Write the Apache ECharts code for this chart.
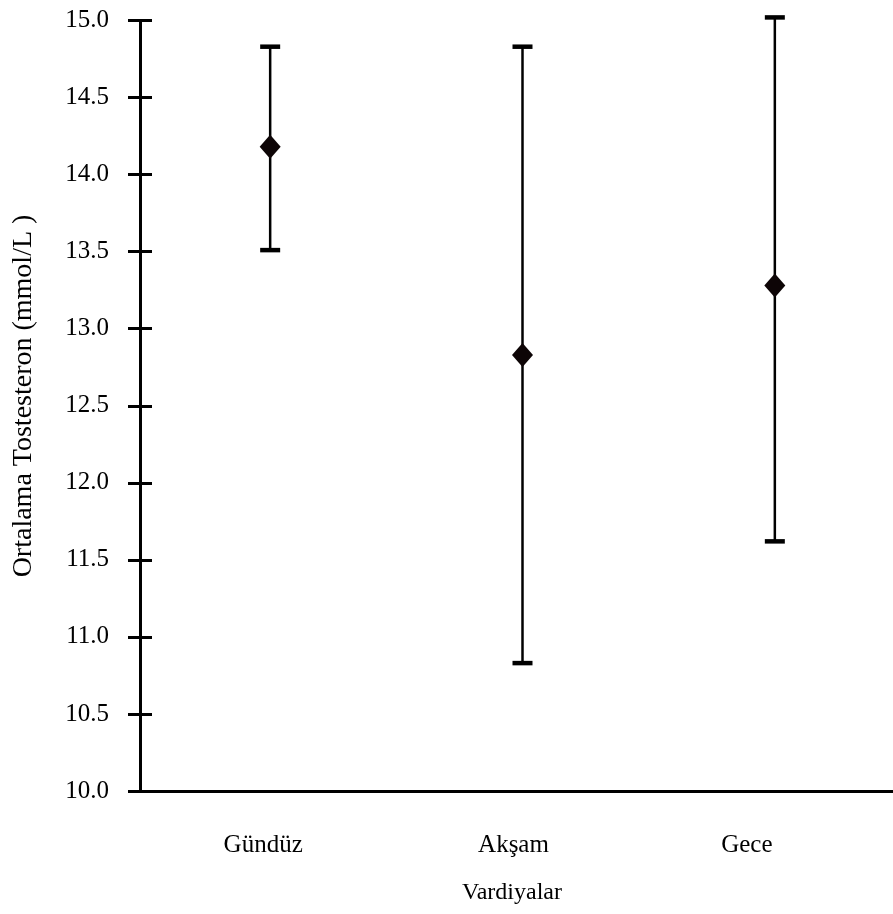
<!DOCTYPE html>
<html>
<head>
<meta charset="utf-8">
<style>
  html, body { margin: 0; padding: 0; background: #fff; }
  #chart { width: 893px; height: 914px; }
</style>
<script src="https://cdn.jsdelivr.net/npm/echarts@6/dist/echarts.min.js"></script>
</head>
<body>
<div id="chart"></div>
<script>
// Shifts (categories)
const categories = ['Gündüz', 'Akşam', 'Gece'];
// Mean testosterone per shift (mmol/L)
const means = [14.18, 12.83, 13.28];
// Error bar lower / upper ends
const lows = [13.51, 10.83, 11.62];
const highs = [14.83, 14.83, 15.02];

const serif = '"Liberation Serif", "Times New Roman", serif';

const chart = echarts.init(document.getElementById('chart'), null, { renderer: 'canvas' });

const barData = categories.map((c, i) => [i, lows[i], highs[i]]);
const meanData = categories.map((c, i) => [i, means[i]]);

// category labels sit a little left of their bars; right padding nudges them
const labelNudge = { 'Gündüz': 14, 'Akşam': 18, 'Gece': 56 };
const labelRich = {};
categories.forEach((c, i) => {
  labelRich['c' + i] = {
    color: '#000', fontFamily: serif, fontSize: 25,
    padding: [0, labelNudge[c], 0, 0]
  };
});

const yCommon = {
  type: 'value',
  min: 10,
  max: 15,
  interval: 0.5,
  offset: 4,
  splitLine: { show: false }
};

const option = {
  backgroundColor: '#ffffff',
  animation: false,
  grid: {
    left: 144, right: -8, top: 20.5, bottom: 123,
    containLabel: false, outerBoundsMode: 'none'
  },
  xAxis: {
    type: 'category',
    data: categories,
    boundaryGap: true,
    axisLine: { show: true, lineStyle: { color: '#000', width: 3 } },
    axisTick: { show: false },
    axisLabel: {
      margin: 42,
      formatter: function (value, index) { return '{c' + index + '|' + value + '}'; },
      rich: labelRich
    },
    splitLine: { show: false }
  },
  yAxis: [
    Object.assign({}, yCommon, {
      axisLine: { show: true, lineStyle: { color: '#000', width: 3 } },
      axisTick: { show: true, inside: false, length: 12, lineStyle: { color: '#000', width: 3 } },
      axisLabel: {
        color: '#000', fontFamily: serif, fontSize: 25, margin: 31,
        formatter: v => v.toFixed(1)
      }
    }),
    // second copy supplies the inner half of each cross-shaped tick
    Object.assign({}, yCommon, {
      position: 'left',
      axisLine: { show: false },
      axisTick: { show: true, inside: true, length: 12, lineStyle: { color: '#000', width: 3 } },
      axisLabel: { show: false }
    })
  ],
  graphic: [
    {
      type: 'text',
      x: 24, y: 396,
      rotation: Math.PI / 2,
      style: {
        text: 'Ortalama Tostesteron (mmol/L )',
        textAlign: 'center', textVerticalAlign: 'middle',
        fill: '#000', font: '28px ' + serif
      }
    },
    {
      type: 'text',
      x: 512, y: 893,
      style: {
        text: 'Vardiyalar',
        textAlign: 'center', textVerticalAlign: 'middle',
        fill: '#000', font: '24px ' + serif
      }
    }
  ],
  series: [
    {
      type: 'custom',
      name: 'range',
      data: barData,
      z: 3,
      renderItem: function (params, api) {
        const x = api.value(0);
        const lo = api.coord([x, api.value(1)]);
        const hi = api.coord([x, api.value(2)]);
        const capHalf = 10;
        return {
          type: 'group',
          children: [
            { type: 'line', shape: { x1: hi[0], y1: hi[1], x2: lo[0], y2: lo[1] },
              style: { stroke: '#000', lineWidth: 2.5 } },
            { type: 'line', shape: { x1: hi[0] - capHalf, y1: hi[1], x2: hi[0] + capHalf, y2: hi[1] },
              style: { stroke: '#000', lineWidth: 4.5 } },
            { type: 'line', shape: { x1: lo[0] - capHalf, y1: lo[1], x2: lo[0] + capHalf, y2: lo[1] },
              style: { stroke: '#000', lineWidth: 4.5 } }
          ]
        };
      }
    },
    {
      type: 'scatter',
      name: 'mean',
      data: meanData,
      symbol: 'diamond',
      symbolSize: [21, 24],
      itemStyle: { color: '#0d0506', opacity: 1 },
      z: 4
    }
  ]
};

chart.setOption(option);
</script>
</body>
</html>
